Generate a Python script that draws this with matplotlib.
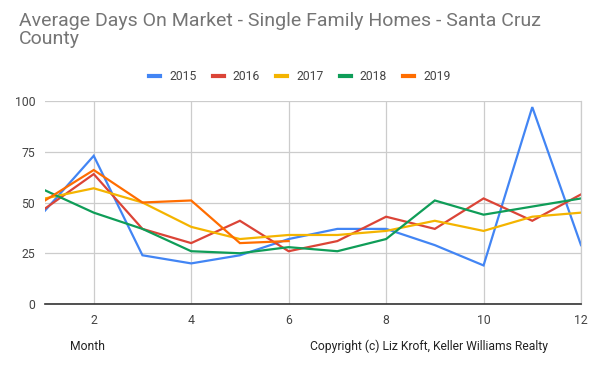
import matplotlib.pyplot as plt

plt.rcParams['font.family'] = ['Roboto', 'DejaVu Sans']

months = list(range(1, 13))
days_2015 = [46, 73, 24, 20, 24, 32, 37, 37, 29, 19, 97, 29]
days_2016 = [47, 64, 37, 30, 41, 26, 31, 43, 37, 52, 41, 54]
days_2017 = [52, 57, 50, 38, 32, 34, 34, 36, 41, 36, 43, 45]
days_2018 = [56, 45, 37, 26, 25, 28, 26, 32, 51, 44, 48, 52]
days_2019 = [51, 66, 50, 51, 30, 31]

series = [
    ("2015", days_2015, "#4285F4"),
    ("2016", days_2016, "#DB4437"),
    ("2017", days_2017, "#F4B400"),
    ("2018", days_2018, "#0F9D58"),
    ("2019", days_2019, "#FF6D00"),
]

fig = plt.figure(figsize=(5.99, 3.70), dpi=100)
ax = fig.add_axes([45 / 599, 1 - 304 / 370, 536 / 599, 203 / 370])

for name, vals, col in series:
    ax.plot(months[:len(vals)], vals, color=col, lw=1.6, label=name,
            solid_joinstyle="miter")

ax.set_xlim(1, 12)
ax.set_ylim(0, 100)
ax.set_xticks([2, 4, 6, 8, 10, 12])
ax.set_yticks([0, 25, 50, 75, 100])
ax.grid(True, color="#cccccc", lw=0.9)
ax.set_axisbelow(True)
for s in ["top", "left"]:
    ax.spines[s].set_visible(False)
ax.spines["right"].set_color("#cccccc")
ax.spines["right"].set_linewidth(0.9)
ax.spines["bottom"].set_color("#333333")
ax.spines["bottom"].set_linewidth(1.2)
ax.tick_params(length=0, labelsize=8.8, colors="#444444", pad=7)

fig.text(19 / 599, 1 - 30 / 370, "Average Days On Market - Single Family Homes - Santa Cruz\nCounty",
         fontsize=14, color="#757575", va="center", ha="left", linespacing=0.95)

leg = fig.legend(loc="center", bbox_to_anchor=(300 / 599, 1 - 77 / 370), ncol=5,
                 frameon=False, fontsize=8.7, handlelength=0.9, handletextpad=0.75,
                 columnspacing=1.35)
for h in leg.get_lines():
    h.set_linewidth(3)
for t in leg.get_texts():
    t.set_color("#444444")

fig.text(70 / 599, 1 - 346 / 370, "Month", fontsize=8.7, color="#222222", va="center")
fig.text(310 / 599, 1 - 346 / 370, "Copyright (c) Liz Kroft, Keller Williams Realty",
         fontsize=8.7, color="#222222", va="center")

fig.savefig("out.png", dpi=100)
